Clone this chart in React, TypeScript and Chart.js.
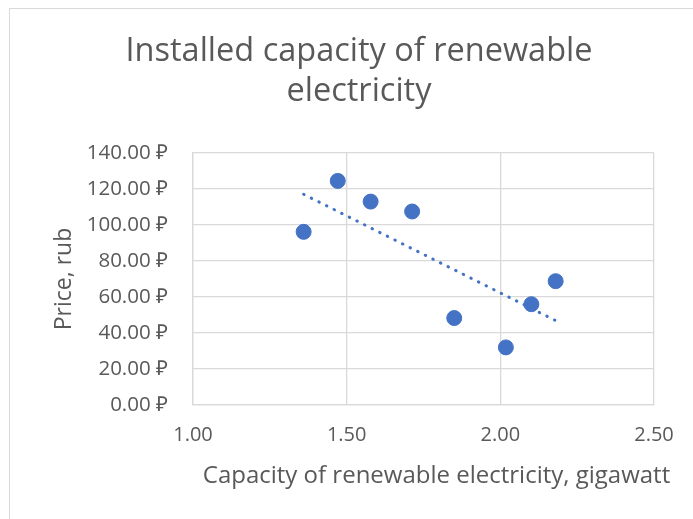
import { useEffect, useRef } from 'react';
import { Chart, registerables } from 'chart.js';

Chart.register(...registerables);

const capacity = [1.36, 1.471, 1.578, 1.713, 1.85, 2.018, 2.101, 2.18];
const price = [96.2, 124.5, 113.0, 107.5, 48.3, 32.0, 56.0, 68.8];
const xTickValues = [1.0, 1.5, 2.0, 2.5];
const yTickValues = [0, 20, 40, 60, 80, 100, 120, 140];
const titleLines = ['Installed capacity of renewable', 'electricity'];
const xAxisTitle = 'Capacity of renewable electricity, gigawatt';
const yAxisTitle = 'Price, rub';

const FONT = "'Open Sans', sans-serif";
const TEXT = '#595959';
const GRID = '#d9d9d9';
const BLUE = '#4472C4';

function trendEndpoints(xs: number[], ys: number[]) {
  const n = xs.length;
  const mx = xs.reduce((a, b) => a + b, 0) / n;
  const my = ys.reduce((a, b) => a + b, 0) / n;
  let sxy = 0;
  let sxx = 0;
  for (let i = 0; i < n; i++) {
    sxy += (xs[i] - mx) * (ys[i] - my);
    sxx += (xs[i] - mx) * (xs[i] - mx);
  }
  const slope = sxy / sxx;
  const x0 = Math.min(...xs);
  const x1 = Math.max(...xs);
  return [
    { x: x0, y: my + slope * (x0 - mx) },
    { x: x1, y: my + slope * (x1 - mx) },
  ];
}

const xTitlePlugin = {
  id: 'xTitlePlugin',
  afterDraw(chart: any) {
    const { ctx, chartArea } = chart;
    ctx.save();
    ctx.fillStyle = TEXT;
    ctx.font = "24px 'Open Sans', sans-serif";
    ctx.textAlign = 'center';
    ctx.textBaseline = 'alphabetic';
    ctx.fillText(xAxisTitle, (chartArea.left + chartArea.right) / 2 + 13, chartArea.bottom + 78);
    ctx.restore();
  },
};

export default function App() {
  const canvasRef = useRef<HTMLCanvasElement | null>(null);

  useEffect(() => {
    if (!canvasRef.current) return;
    const chart = new Chart(canvasRef.current, {
      type: 'scatter',
      data: {
        datasets: [
          {
            type: 'line',
            label: 'Trend',
            data: trendEndpoints(capacity, price),
            borderColor: BLUE,
            borderWidth: 3,
            borderDash: [0.5, 8],
            borderCapStyle: 'round',
            pointRadius: 0,
            fill: false,
            order: 2,
          } as any,
          {
            label: 'Price',
            data: capacity.map((x, i) => ({ x, y: price[i] })),
            backgroundColor: BLUE,
            borderColor: BLUE,
            pointRadius: 7.5,
            pointHoverRadius: 7.5,
            order: 1,
          },
        ],
      },
      plugins: [xTitlePlugin],
      options: {
        animation: false,
        responsive: false,
        devicePixelRatio: 1,
        layout: { padding: { left: 64, right: 39, top: 0, bottom: 0 } },
        plugins: {
          legend: { display: false },
          tooltip: { enabled: false },
          title: {
            display: true,
            text: titleLines,
            color: TEXT,
            font: { family: FONT, size: 32.5, weight: 'normal', lineHeight: 1.22 },
            padding: { top: 32, bottom: 41.7 },
          },
        },
        scales: {
          x: {
            type: 'linear',
            min: 1,
            max: 2.5,
            afterFit: (s: any) => {
              s.height = 114;
            },
            afterBuildTicks: (s: any) => {
              s.ticks = xTickValues.map((v) => ({ value: v }));
            },
            ticks: {
              color: TEXT,
              font: { family: FONT, size: 20 },
              padding: 18,
              callback: (v: any) => Number(v).toFixed(2),
            },
            grid: { color: GRID, lineWidth: 1.3, drawTicks: false },
            border: { color: GRID, width: 1.3 },
            title: { display: false },
          },
          y: {
            type: 'linear',
            min: 0,
            max: 140,
            afterFit: (s: any) => {
              s.width = 129;
            },
            afterBuildTicks: (s: any) => {
              s.ticks = yTickValues.map((v) => ({ value: v }));
            },
            ticks: {
              color: TEXT,
              font: { family: FONT, size: 20.5 },
              padding: 25,
              callback: (v: any) => Number(v).toFixed(2) + ' ₽',
            },
            grid: { color: GRID, lineWidth: 1.3, drawTicks: false },
            border: { color: GRID, width: 1.3 },
            title: {
              display: true,
              text: yAxisTitle,
              color: TEXT,
              font: { family: FONT, size: 23, lineHeight: 1.2 },
              padding: { top: -13.8, bottom: 0 },
            },
          },
        },
      },
    });
    return () => chart.destroy();
  }, []);

  return (
    <div
      style={{
        position: 'fixed',
        left: 0,
        top: 0,
        width: 693,
        height: 519,
        background: '#fff',
        overflow: 'hidden',
      }}
    >
      <div
        style={{
          position: 'absolute',
          left: 9,
          top: 8,
          width: 720,
          height: 540,
          border: '1.5px solid ' + GRID,
          boxSizing: 'border-box',
        }}
      />
      <canvas
        ref={canvasRef}
        width={693}
        height={519}
        style={{ position: 'absolute', left: 0, top: 0, width: 693, height: 519 }}
      />
    </div>
  );
}
